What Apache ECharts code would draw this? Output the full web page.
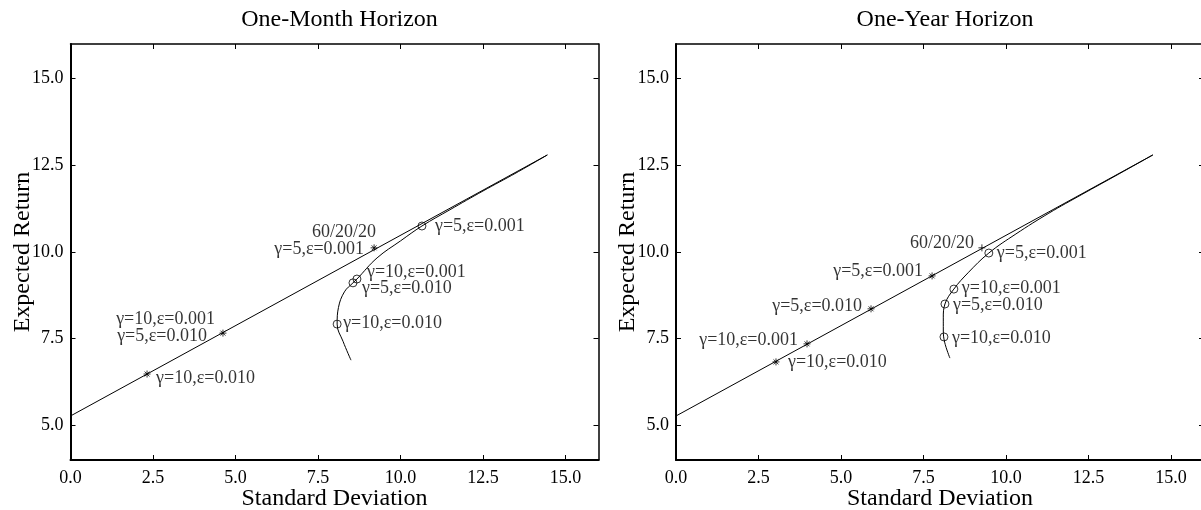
<!DOCTYPE html>
<html>
<head>
<meta charset="utf-8">
<script src="https://cdn.jsdelivr.net/npm/echarts@6.0.0/dist/echarts.min.js"></script>
<style>
  html, body { margin: 0; background: #fff; }
  #chart { width: 1201px; height: 510px; }
</style>
</head>
<body>
<div id="chart"></div>
<script>
// axes
const xTicks = [0, 2.5, 5, 7.5, 10, 12.5, 15]
const yTicks = [5, 7.5, 10, 12.5, 15]
const xRange = [0, 16]
const yRange = [4, 16]
const panelTitles = ['One-Month Horizon', 'One-Year Horizon']

// capital market line (same in both panels)
const cmlLine = [[0, 5.27], [14.45, 12.8]]

// one-month panel
const monthFrontier = [
  [8.50, 6.88], [8.26, 7.42], [8.08, 7.92], [8.12, 8.40], [8.30, 8.85],
  [8.56, 9.11], [8.68, 9.22], [9.29, 9.83], [10.0, 10.32], [10.65, 10.75],
  [11.5, 11.22], [12.5, 11.76], [13.5, 12.28], [14.45, 12.8],
]
const monthStars = [[9.20, 10.12], [4.62, 7.66], [2.32, 6.48]]
const monthPlus = []
const monthCircles = [[10.65, 10.75], [8.68, 9.22], [8.56, 9.11], [8.08, 7.92]]
const monthNotes = [
  [9.20, 10.12, '60/20/20'],
  [9.20, 10.12, 'γ=5,ε=0.001'],
  [4.62, 7.66, 'γ=10,ε=0.001'],
  [4.62, 7.66, 'γ=5,ε=0.010'],
  [2.32, 6.48, 'γ=10,ε=0.010'],
  [10.65, 10.75, 'γ=5,ε=0.001'],
  [8.68, 9.22, 'γ=10,ε=0.001'],
  [8.56, 9.11, 'γ=5,ε=0.010'],
  [8.08, 7.92, 'γ=10,ε=0.010'],
]

// one-year panel
const yearFrontier = [
  [8.30, 6.94], [8.14, 7.40], [8.10, 7.75], [8.10, 8.10], [8.15, 8.50],
  [8.42, 8.93], [8.85, 9.40], [9.48, 9.97], [10.3, 10.52], [11.3, 11.12],
  [12.3, 11.66], [13.4, 12.24], [14.45, 12.8],
]
const yearStars = [[7.76, 9.31], [5.91, 8.36], [3.97, 7.35], [3.03, 6.83]]
const yearPlus = [[9.27, 10.12]]
const yearCircles = [[9.48, 9.97], [8.42, 8.93], [8.15, 8.50], [8.12, 7.55]]
const yearNotes = [
  [9.27, 10.12, '60/20/20'],
  [7.76, 9.31, 'γ=5,ε=0.001'],
  [5.91, 8.36, 'γ=5,ε=0.010'],
  [3.97, 7.35, 'γ=10,ε=0.001'],
  [3.03, 6.83, 'γ=10,ε=0.010'],
  [9.48, 9.97, 'γ=5,ε=0.001'],
  [8.42, 8.93, 'γ=10,ε=0.001'],
  [8.15, 8.50, 'γ=5,ε=0.010'],
  [8.12, 7.55, 'γ=10,ε=0.010'],
]

// label placement: [align, dx, dy] in px from the marked point
const monthNotePlace = [
  ['right', 2, -16], ['right', -10, 1],
  ['right', -8, -14], ['right', -16, 3],
  ['left', 9, 4],
  ['left', 13, 0], ['left', 10, -7], ['left', 9, 5], ['left', 6, -1],
]
const yearNotePlace = [
  ['right', -8, -5], ['right', -9, -5], ['right', -9, -3], ['right', -9, -4],
  ['left', 12, 0],
  ['left', 8, 0], ['left', 8, -1], ['left', 8, 1], ['left', 8, 1],
]

const FONT = 'Liberation Serif'
const INK = '#000'
const STAR = 'path://M5,0L5,10M0,5L10,5M1.5,1.5L8.5,8.5M8.5,1.5L1.5,8.5'
const PLUS = 'path://M5,0L5,10M0,5L10,5'
const grids = [
  { left: 70.5, top: 44, width: 528, height: 416, outerBoundsMode: 'none' },
  { left: 676, top: 44, width: 528, height: 416, outerBoundsMode: 'none' },
]

function axisBase(extra, w) {
  return Object.assign({
    type: 'value',
    nameMoveOverlap: false,
    axisLine: { show: true, onZero: false, lineStyle: { color: INK, width: w } },
    splitLine: { show: false },
  }, extra)
}

function buildAxes(gi) {
  const xs = [
    axisBase({
      gridIndex: gi, position: 'bottom', min: xRange[0], max: xRange[1],
      axisTick: { inside: true, length: 5, customValues: xTicks, lineStyle: { color: INK } },
      axisLabel: {
        customValues: xTicks, formatter: (v) => v.toFixed(1),
        color: INK, fontFamily: FONT, fontSize: 18, margin: 9,
      },
      name: 'Standard Deviation', nameLocation: 'middle', nameGap: 27,
      nameTextStyle: { color: INK, fontFamily: FONT, fontSize: 24 },
    }, 2),
    axisBase({
      gridIndex: gi, position: 'top', min: xRange[0], max: xRange[1],
      axisTick: { inside: true, length: 5, customValues: xTicks, lineStyle: { color: INK } },
      axisLabel: { show: false },
    }, 1.5),
  ]
  const ys = [
    axisBase({
      gridIndex: gi, position: 'left', min: yRange[0], max: yRange[1],
      axisTick: { inside: true, length: 5, customValues: yTicks, lineStyle: { color: INK } },
      axisLabel: {
        customValues: yTicks, formatter: (v) => v.toFixed(1),
        color: INK, fontFamily: FONT, fontSize: 18, margin: 7,
      },
      name: 'Expected Return', nameLocation: 'middle', nameGap: 36,
      nameTextStyle: { color: INK, fontFamily: FONT, fontSize: 24 },
    }, 2),
    axisBase({
      gridIndex: gi, position: 'right', min: yRange[0], max: yRange[1],
      axisTick: { inside: true, length: 5, customValues: yTicks, lineStyle: { color: INK } },
      axisLabel: { show: false },
    }, 1.5),
  ]
  return { xs, ys }
}

function buildSeries(gi, frontier, stars, plus, circles, notes, place) {
  const ax = { xAxisIndex: gi * 2, yAxisIndex: gi * 2 }
  return [
    Object.assign({
      type: 'line', data: cmlLine, showSymbol: false, silent: true,
      lineStyle: { color: INK, width: 1 },
    }, ax),
    Object.assign({
      type: 'line', data: frontier, showSymbol: false, silent: true, smooth: 0.4,
      lineStyle: { color: INK, width: 1 },
    }, ax),
    Object.assign({
      type: 'scatter', data: stars, symbol: STAR, symbolSize: 7, silent: true,
      itemStyle: { color: 'transparent', borderColor: INK, borderWidth: 1 },
    }, ax),
    Object.assign({
      type: 'scatter', data: plus, symbol: PLUS, symbolSize: 7, silent: true,
      itemStyle: { color: 'transparent', borderColor: INK, borderWidth: 1 },
    }, ax),
    Object.assign({
      type: 'scatter', data: circles, symbol: 'circle', symbolSize: 8, silent: true,
      itemStyle: { color: 'transparent', borderColor: INK, borderWidth: 1 },
    }, ax),
    Object.assign({
      type: 'scatter', silent: true, symbolSize: 1, z: 5,
      itemStyle: { color: 'transparent' },
      data: notes.map((n, i) => ({
        value: [n[0], n[1]],
        label: {
          show: true, formatter: n[2], position: 'inside',
          align: place[i][0], verticalAlign: 'middle', offset: [place[i][1], place[i][2]],
          color: INK, fontFamily: FONT, fontSize: 18,
        },
      })),
    }, ax),
  ]
}

const a0 = buildAxes(0)
const a1 = buildAxes(1)

const chart = echarts.init(document.getElementById('chart'))
chart.setOption({
  animation: false,
  backgroundColor: '#fff',
  title: panelTitles.map((t, i) => ({
    text: t,
    left: grids[i].left + grids[i].width / 2,
    top: 3,
    textAlign: 'center',
    textStyle: { color: INK, fontFamily: FONT, fontSize: 24, fontWeight: 'normal' },
  })),
  grid: grids,
  xAxis: [...a0.xs, ...a1.xs],
  yAxis: [...a0.ys, ...a1.ys],
  series: [
    ...buildSeries(0, monthFrontier, monthStars, monthPlus, monthCircles, monthNotes, monthNotePlace),
    ...buildSeries(1, yearFrontier, yearStars, yearPlus, yearCircles, yearNotes, yearNotePlace),
  ],
})
</script>
</body>
</html>
